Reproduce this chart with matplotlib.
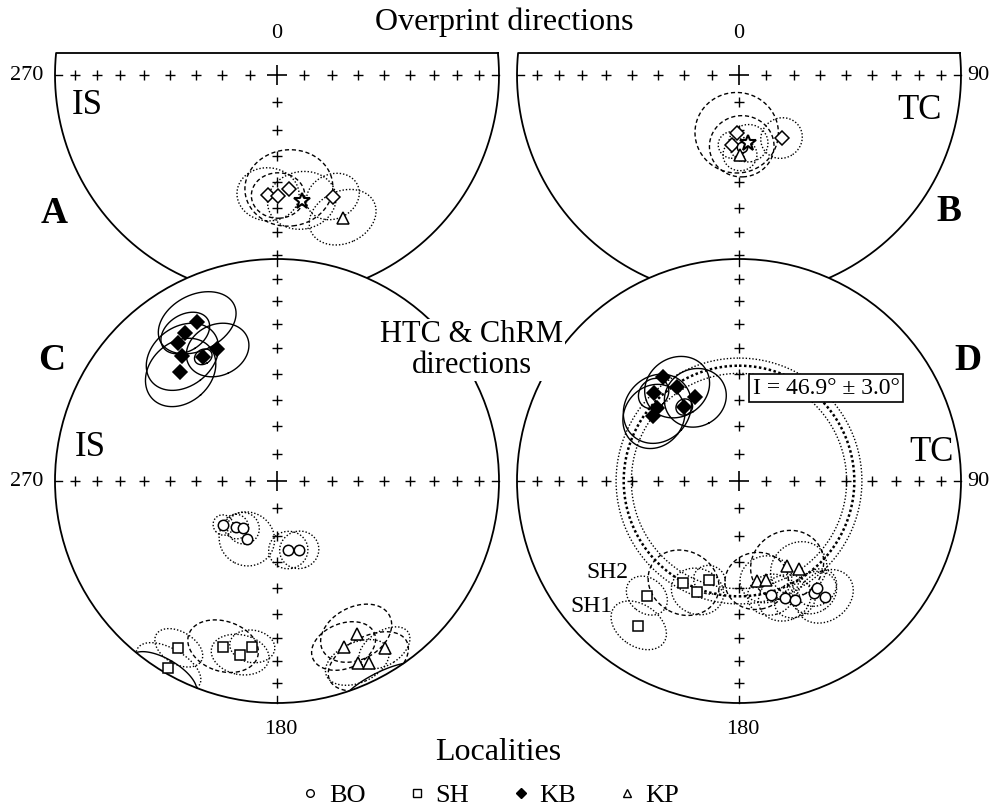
import numpy as np
import matplotlib.pyplot as plt
from matplotlib.lines import Line2D
from matplotlib.patches import Circle

plt.rcParams['font.family'] = ['Liberation Serif', 'DejaVu Serif']

# ---- directions (declination, inclination, alpha95), degrees ----
# negative inclination = upper hemisphere (open symbols)

# A: overprint, in situ
a_kb_dec = [184.3, 179.5, 174.0, 155.3]
a_kb_inc = [-45.0, -44.7, -47.2, -39.4]
a_kb_a95 = [10.5, 9.0, 15.0, 9.0]
a_kp_dec = [155.2]
a_kp_inc = [-29.8]
a_kp_a95 = [11.0]
a_mean_dec = [168.8]
a_mean_inc = [-41.7]
a_mean_a95 = [11.5]

# B: overprint, tilt corrected
b_kb_dec = [182.3, 185.5, 146.0]
b_kb_inc = [-68.6, -64.1, -61.9]
b_kb_a95 = [15.0, 5.0, 7.5]
b_bo_dec = [177.8]
b_bo_inc = [-63.6]
b_bo_a95 = [11.5]
b_kp_dec = [179.3]
b_kp_inc = [-60.5]
b_kp_a95 = [6.0]
b_mean_dec = [172.2]
b_mean_inc = [-64.6]
b_mean_a95 = [7.0]

# C: HTC / ChRM, in situ
c_kb_dec = [333.2, 328.2, 324.4, 322.7, 335.6, 318.4]
c_kb_inc = [20.7, 22.4, 24.7, 29.9, 35.2, 34.5]
c_kb_a95 = [12.4, 8.0, 0.0, 12.5, 10.5, 12.5]
c_kbm_dec = [329.3]
c_kbm_inc = [35.2]
c_kbm_a95 = [3.0]
c_bo_dec = [230.7, 221.9, 215.5, 207.5, 170.7, 162.1]
c_bo_inc = [-64.4, -67.5, -68.7, -65.9, -64.2, -63.3]
c_bo_a95 = [3.7, 4.5, 5.8, 10.0, 7.0, 7.0]
c_sh_dec = [210.5, 210.3, 198.1, 192.0, 188.5]
c_sh_inc = [-13.6, -2.8, -22.4, -20.9, -25.5]
c_sh_a95 = [7.5, 9.5, 11.0, 8.8, 7.0]
c_kp_dec = [152.5, 158.0, 147.2, 156.1, 153.1]
c_kp_inc = [-23.3, -20.6, -11.3, -11.2, -9.1]
c_kp_a95 = [11.5, 10.0, 8.0, 9.5, 12.0]

# D: HTC / ChRM, tilt corrected
d_kb_dec = [324.0, 326.6, 332.3, 315.7, 311.5, 307.2]
d_kb_inc = [41.6, 47.8, 55.0, 44.1, 49.1, 50.0]
d_kb_a95 = [0.0, 11.5, 11.0, 5.5, 12.5, 11.5]
d_kbm_dec = [323.5]
d_kbm_inc = [55.9]
d_kbm_a95 = [3.0]
d_sh_dec = [208.6, 200.6, 196.7, 218.8, 214.8]
d_sh_inc = [-46.4, -45.7, -51.6, -34.0, -21.6]
d_sh_a95 = [12.4, 9.0, 5.5, 7.2, 9.2]
d_kp_dec = [170.0, 164.7, 150.2, 145.7]
d_kp_inc = [-52.1, -52.0, -53.8, -50.4]
d_kp_a95 = [11.0, 9.0, 13.0, 10.0]
d_bo_dec = [164.3, 158.6, 154.8, 146.2, 143.9, 143.4]
d_bo_inc = [-45.7, -42.7, -40.5, -39.2, -40.2, -35.3]
d_bo_a95 = [8.0, 9.0, 7.0, 8.0, 7.0, 10.0]

# inclination-only mean
inc_only = 46.9
inc_only_err = 3.0

localities = ['BO', 'SH', 'KB', 'KP']

# ---- layout ----
R = 222.0
CENTRES = {'A': (277, 75), 'B': (739, 75), 'C': (277, 481), 'D': (739, 481)}
CUT_Y = 53
MARK = {'BO': dict(marker='o', ms=7.5),
        'SH': dict(marker='s', ms=6.5),
        'KB': dict(marker='D', ms=7.2),
        'KP': dict(marker='^', ms=8.5),
        'mean': dict(marker='*', ms=12)}
DOT = (0, (1, 1.4))
DASH = (0, (3, 2))


def to_xy(key, dec, inc):
    """Schmidt equal-area projection into the net centred at CENTRES[key]."""
    cx, cy = CENTRES[key]
    th = np.radians(90 - np.abs(inc))
    r = R * np.sqrt(2) * np.sin(th / 2)
    d = np.radians(dec)
    return cx + r * np.sin(d), cy - r * np.cos(d)


def cone(dec, inc, a95, n=241):
    d, i, a = np.radians(dec), np.radians(inc), np.radians(a95)
    v = np.array([np.cos(i) * np.cos(d), np.cos(i) * np.sin(d), np.sin(i)])
    u1 = np.array([-np.sin(i) * np.cos(d), -np.sin(i) * np.sin(d), np.cos(i)])
    u2 = np.cross(v, u1)
    t = np.linspace(0, 2 * np.pi, n)
    p = np.cos(a) * v[:, None] + np.sin(a) * (np.cos(t) * u1[:, None] + np.sin(t) * u2[:, None])
    decs = np.degrees(np.arctan2(p[1], p[0]))
    incs = np.degrees(np.arcsin(np.clip(p[2], -1, 1)))
    return decs, incs


def draw_cone(ax, key, dec, inc, a95, dashed, z):
    decs, incs = cone(dec, inc, a95)
    x, y = to_xy(key, decs, incs)
    lower = incs >= 0
    cuts = np.flatnonzero(np.diff(lower.astype(int))) + 1
    for seg in np.split(np.arange(len(x)), cuts):
        if len(seg) < 2:
            continue
        if lower[seg[0]]:
            ls = '-'
        else:
            ls = DASH if dashed else DOT
        ax.plot(x[seg], y[seg], ls=ls, color='k', lw=1.0, zorder=z)


def draw_sites(ax, key, loc, decs, incs, a95s, dashed=(), z=6):
    for k, (d, i, a) in enumerate(zip(decs, incs, a95s)):
        if a > 0:
            draw_cone(ax, key, d, i, a, k in dashed, z)
    for d, i in zip(decs, incs):
        x, y = to_xy(key, d, i)
        ax.plot(x, y, ls='none', mec='k', mfc='white' if i < 0 else 'k',
                mew=1.5 if loc == 'mean' else 1.1, zorder=z + 1, **MARK[loc])


def draw_net(ax, key, half, z):
    cx, cy = CENTRES[key]
    if half:
        t0 = np.arcsin((CUT_Y - cy) / R)
        t = np.linspace(t0, np.pi - t0, 400)
        x = cx + R * np.cos(t)
        y = cy + R * np.sin(t)
        ax.plot(np.r_[x, x[0]], np.r_[y, y[0]], color='k', lw=1.3, zorder=z)
        decs = [90, 180, 270]
    else:
        ax.add_patch(Circle((cx, cy), R, fc='white', ec='k', lw=1.3, zorder=z))
        decs = [0, 90, 180, 270]
    incs = np.arange(10, 90, 10)
    for d in decs:
        x, y = to_xy(key, np.full(incs.size, float(d)), incs)
        ax.plot(x, y, ls='none', marker='+', ms=7, mew=1.0, color='k', zorder=z + 0.1)
        s, c = np.sin(np.radians(d)), np.cos(np.radians(d))
        ax.plot([cx + R * s, cx + (R - 7) * s], [cy - R * c, cy - (R - 7) * c],
                color='k', lw=1.0, zorder=z + 0.1)
    ax.plot(cx, cy, marker='+', ms=15, mew=1.2, color='k', zorder=z + 0.1)


fig = plt.figure(figsize=(9.95, 8.09), dpi=100)
ax = fig.add_axes([0, 0, 1, 1])
ax.set_xlim(0, 995)
ax.set_ylim(809, 0)
ax.axis('off')

# upper pair: overprint directions
draw_net(ax, 'A', True, 1)
draw_net(ax, 'B', True, 1)
draw_sites(ax, 'A', 'KB', a_kb_dec, a_kb_inc, a_kb_a95, dashed={1, 2}, z=2)
draw_sites(ax, 'A', 'KP', a_kp_dec, a_kp_inc, a_kp_a95, z=2)
draw_sites(ax, 'A', 'mean', a_mean_dec, a_mean_inc, a_mean_a95, z=2)
draw_sites(ax, 'B', 'KB', b_kb_dec, b_kb_inc, b_kb_a95, dashed={0}, z=2)
draw_sites(ax, 'B', 'BO', b_bo_dec, b_bo_inc, b_bo_a95, dashed={0}, z=2)
draw_sites(ax, 'B', 'KP', b_kp_dec, b_kp_inc, b_kp_a95, z=2)
draw_sites(ax, 'B', 'mean', b_mean_dec, b_mean_inc, b_mean_a95, z=2)

# lower pair: HTC & ChRM directions
draw_net(ax, 'C', False, 5)
draw_net(ax, 'D', False, 5)
draw_sites(ax, 'C', 'BO', c_bo_dec, c_bo_inc, c_bo_a95)
draw_sites(ax, 'C', 'SH', c_sh_dec, c_sh_inc, c_sh_a95, dashed={2})
draw_sites(ax, 'C', 'KP', c_kp_dec, c_kp_inc, c_kp_a95, dashed={0, 1, 4})
draw_sites(ax, 'C', 'KB', c_kb_dec, c_kb_inc, c_kb_a95)
draw_sites(ax, 'C', 'KB', c_kbm_dec, c_kbm_inc, c_kbm_a95)

ring_dec = np.linspace(0, 360, 721)
for inc, lw, ls in [(inc_only, 1.8, (0, (1, 1))),
                    (inc_only - inc_only_err, 1.0, DOT),
                    (inc_only + inc_only_err, 1.0, DOT)]:
    x, y = to_xy('D', ring_dec, np.full_like(ring_dec, inc))
    ax.plot(x, y, color='k', lw=lw, ls=ls, zorder=6)

draw_sites(ax, 'D', 'SH', d_sh_dec, d_sh_inc, d_sh_a95, dashed={0})
draw_sites(ax, 'D', 'KP', d_kp_dec, d_kp_inc, d_kp_a95, dashed={0, 2})
draw_sites(ax, 'D', 'BO', d_bo_dec, d_bo_inc, d_bo_a95)
draw_sites(ax, 'D', 'KB', d_kb_dec, d_kb_inc, d_kb_a95)
draw_sites(ax, 'D', 'KB', d_kbm_dec, d_kbm_inc, d_kbm_a95)

# labels
ax.text(504, 22, 'Overprint directions', fontsize=23, ha='center', va='center', zorder=20)
for key in 'AB':
    ax.text(CENTRES[key][0], 33, '0', fontsize=16, ha='center', va='center')
for key in 'AC':
    ax.text(43, CENTRES[key][1], '270', fontsize=16, ha='right', va='center')
for key in 'BD':
    ax.text(967, CENTRES[key][1], '90', fontsize=16, ha='left', va='center')
for key in 'CD':
    ax.text(CENTRES[key][0] + 4, 730, '180', fontsize=16, ha='center', va='center')

bold = dict(fontsize=27, fontweight='bold', ha='center', va='center', zorder=20)
ax.text(54, 213, 'A', **bold)
ax.text(949, 211, 'B', **bold)
ax.text(52, 360, 'C', **bold)
ax.text(968, 360, 'D', **bold)

big = dict(fontsize=25, ha='center', va='center', zorder=20)
ax.text(87, 105, 'IS', **big)
ax.text(920, 110, 'TC', **big)
ax.text(90, 447, 'IS', **big)
ax.text(932, 452, 'TC', **big)

ax.text(472, 350, 'HTC & ChRM\ndirections', fontsize=22, ha='center', va='center',
        linespacing=1.05, zorder=20,
        bbox=dict(fc='white', ec='none', pad=1))
ax.text(826, 388, f'I = {inc_only:.1f}° ± {inc_only_err:.1f}°', fontsize=17,
        ha='center', va='center', zorder=20,
        bbox=dict(fc='white', ec='k', lw=1.2, boxstyle='square,pad=0.15'))
ax.text(628, 573, 'SH2', fontsize=17, ha='right', va='center', zorder=20)
ax.text(612, 607, 'SH1', fontsize=17, ha='right', va='center', zorder=20)
ax.text(498, 753, 'Localities', fontsize=23, ha='center', va='center')

handles = [Line2D([], [], ls='none', marker=MARK[k]['marker'], ms=5.5, mec='k',
                  mfc='k' if k == 'KB' else 'white', mew=1.0) for k in localities]
ax.legend(handles, localities, loc='center', bbox_to_anchor=(0.492, 1 - 795 / 809),
          ncol=4, frameon=False, fontsize=19, handlelength=0.8, handletextpad=0.3,
          columnspacing=1.55, borderpad=0)

fig.savefig('out.png', dpi=100)
